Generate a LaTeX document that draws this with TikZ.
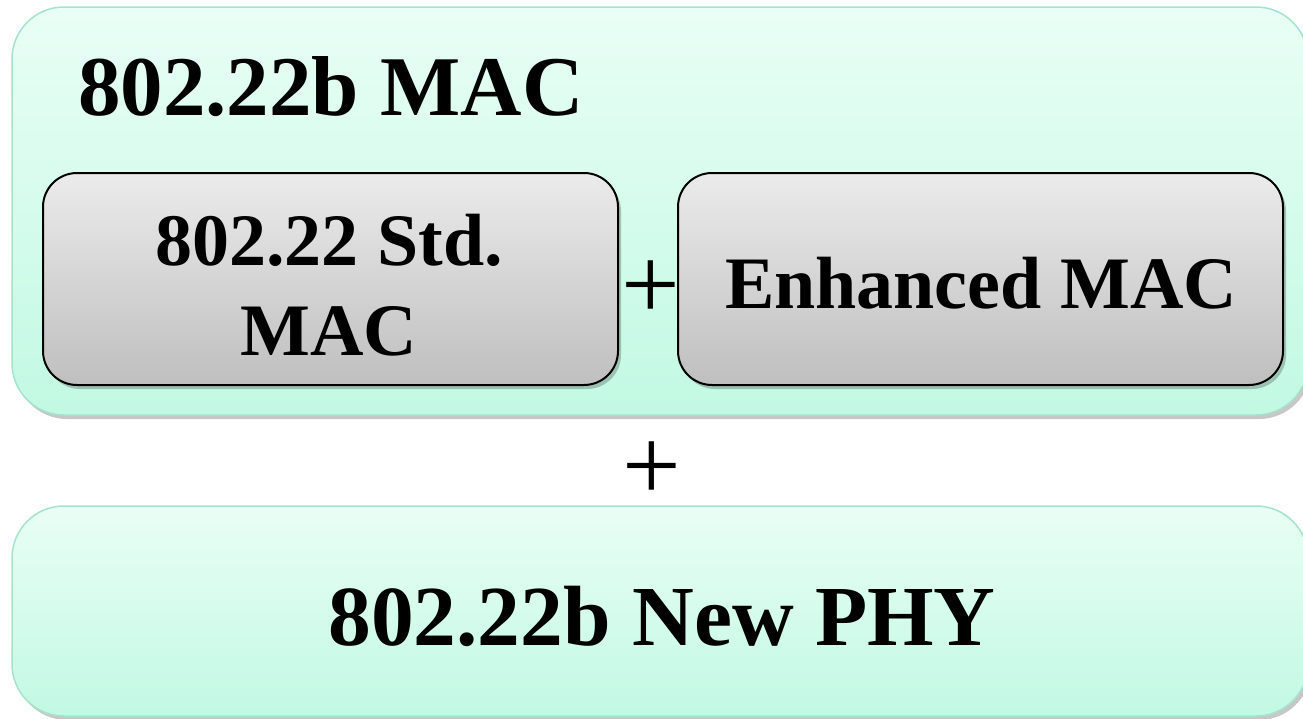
\documentclass[tikz,border=0pt]{standalone}
\usepackage{fontspec}
\setmainfont{Liberation Serif}
\usetikzlibrary{shadows}
\definecolor{mintTop}{HTML}{E9FEF6}
\definecolor{mintBot}{HTML}{C2F9E3}
\definecolor{mintLine}{HTML}{A6E3CC}
\definecolor{grayTop}{HTML}{EBEBEB}
\definecolor{grayBot}{HTML}{BFBFBF}
\tikzset{
  outerbox/.style={draw=mintLine, line width=1.5pt, rounded corners=52pt,
    top color=mintTop, bottom color=mintBot, inner sep=0pt,
    drop shadow={shadow xshift=3pt, shadow yshift=-4pt, opacity=0.22, fill=black}},
  innerbox/.style={draw=black, line width=2pt, rounded corners=34pt,
    top color=grayTop, bottom color=grayBot, inner sep=0pt,
    drop shadow={shadow xshift=3pt, shadow yshift=-4pt, opacity=0.22, fill=black}},
  bigtxt/.style={font=\fontsize{85}{100}\selectfont\bfseries, inner sep=0pt, anchor=base},
  phytxtstyle/.style={font=\fontsize{85.5}{100}\selectfont\bfseries, inner sep=0pt, anchor=base},
  midtxt/.style={font=\fontsize{74}{90}\selectfont\bfseries, inner sep=0pt, anchor=base},
  plustxt/.style={font=\fontsize{104}{120}\selectfont, inner sep=0pt},
}
\begin{document}
\begin{tikzpicture}[x=1pt,y=-1pt]
\useasboundingbox (0,0) rectangle (1303,718);
\fill[white] (0,0) rectangle (1303,718);
% top container
\node[outerbox, minimum width=1296pt, minimum height=408pt] (mac) at (660,211) {};
\node[bigtxt, anchor=base west] (mactitle) at (78,115) {802.22b MAC};
% inner boxes
\node[innerbox, minimum width=575pt, minimum height=212pt] (std) at (330.5,279) {};
\node[innerbox, minimum width=605pt, minimum height=212pt] (enh) at (980.5,279) {};
\node[midtxt] (stdA) at (329,265) {802.22 Std.};
\node[midtxt] (stdB) at (329,355) {MAC};
\node[midtxt] (enhtxt) at (981,308) {Enhanced MAC};
\node[plustxt] (plusA) at (651,290) {+};
% bottom container
\node[outerbox, minimum width=1296pt, minimum height=210pt] (phy) at (660,611) {};
\node[plustxt] (plusB) at (652,471) {+};
\node[phytxtstyle] (phytxt) at (662,645) {802.22b New PHY};
\end{tikzpicture}
\end{document}
